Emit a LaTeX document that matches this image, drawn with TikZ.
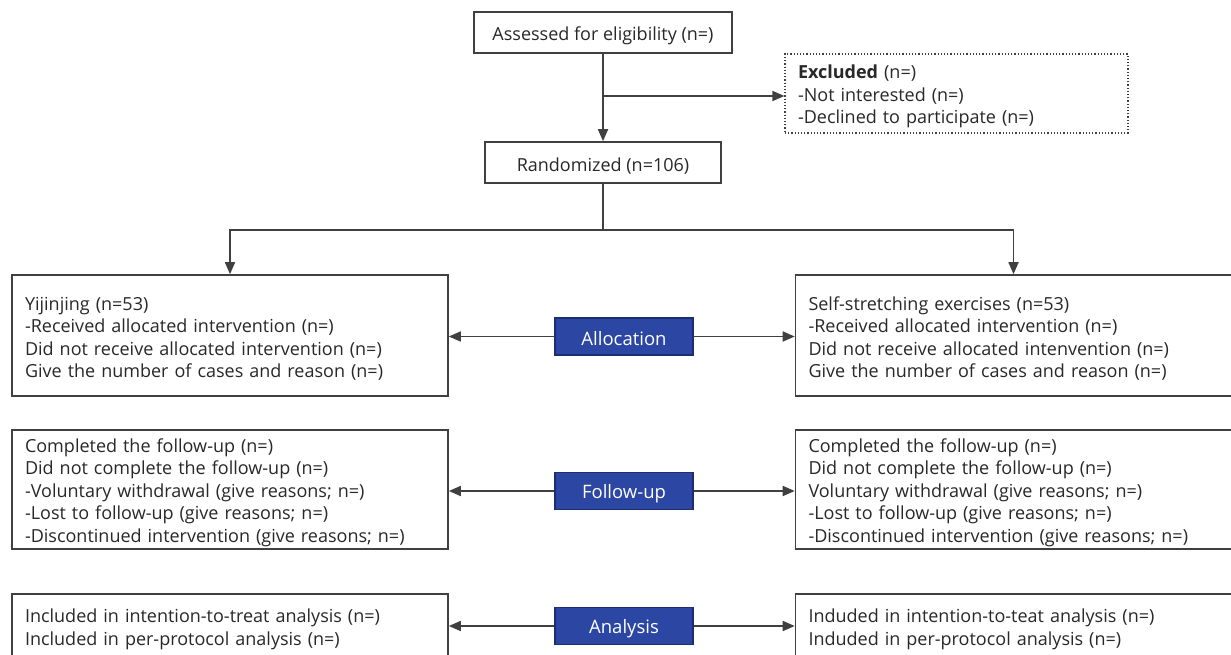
\documentclass[tikz,border=0pt]{standalone}
\usepackage{fontspec}
\setmainfont{Open Sans}
\usetikzlibrary{arrows.meta,calc}
\definecolor{boxline}{RGB}{64,64,64}
\definecolor{txt}{RGB}{40,40,40}
\definecolor{navy}{RGB}{44,71,163}
\definecolor{navyline}{RGB}{30,45,110}
\begin{document}
\begin{tikzpicture}[x=1pt,y=-1pt,
  base/.style={text=txt, inner sep=0pt, font=\fontsize{18}{22.4}\selectfont, execute at begin node={\rule{0pt}{20pt}}},
  box/.style={base, draw=boxline, line width=1.6pt, fill=white},
  sidebox/.style={box, text width=410pt, inner xsep=13pt, minimum height=#1, align=left},
  titlebox/.style={box, align=center},
  exbox/.style={base, draw=boxline, line width=1.2pt, dotted, text width=317pt, inner xsep=13pt, minimum height=79pt, align=left},
  stage/.style={fill=navy, draw=navyline, line width=1.2pt, text=white, inner sep=0pt, minimum width=138pt, minimum height=37pt, font=\fontsize{18.5}{20}\selectfont, execute at begin node={\rule{0pt}{19pt}}},
  conn/.style={draw=boxline, line width=1.7pt},
  arr/.style={conn, -{Triangle[length=12pt,width=10pt]}}
]
\useasboundingbox (0,0) rectangle (1231,655);
\fill[white] (0,0) rectangle (1231,655);

\node[titlebox, minimum width=258pt, minimum height=41pt] (assess) at (603,32.5) {Assessed for eligibility (n=)};
\node[exbox] (excl) at (956.5,93.5) {\textbf{Excluded} (n=)\\-Not interested (n=)\\-Declined to participate (n=)};
\node[titlebox, minimum width=236pt, minimum height=41pt] (rand) at (603,162.5) {Randomized (n=106)};

\node[sidebox=121pt] (la) at (230,335.5) {Yijinjing (n=53)\\-Received allocated intervention (n=)\\Did not receive allocated intervention (n=)\\Give the number of cases and reason (n=)};
\node[sidebox=121pt] (ra) at (1013.5,335.5) {Self-stretching exercises (n=53)\\-Received allocated intervention (n=)\\Did not receive allocated intenvention (n=)\\Give the number of cases and reason (n=)};

\node[sidebox=119pt] (lf) at (230,489.5) {Completed the follow-up (n=)\\Did not complete the follow-up (n=)\\-Voluntary withdrawal (give reasons; n=)\\-Lost to follow-up (give reasons; n=)\\-Discontinued intervention (give reasons; n=)};
\node[sidebox=119pt] (rf) at (1013.5,489.5) {Completed the follow-up (n=)\\Did not complete the follow-up (n=)\\Voluntary withdrawal (give reasons; n=)\\-Lost to follow-up (give reasons; n=)\\-Discontinued intervention (give reasons; n=)};

\node[sidebox=64pt] (ln) at (230,626) {Included in intention-to-treat analysis (n=)\\Included in per-protocol analysis (n=)};
\node[sidebox=64pt] (rn) at (1013.5,626) {Induded in intention-to-teat analysis (n=)\\Induded in per-protocol analysis (n=)};

\node[stage] (alloc) at (624,336.5) {Allocation};
\node[stage] (fol) at (624,491) {Follow-up};
\node[stage] (ana) at (624,626) {Analysis};

% connectors
\draw[arr] (assess.south) -- (rand.north);
\coordinate (br) at (603,96);
\draw[arr] (br) -- (br -| excl.west);
\coordinate (split) at (603,230);
\draw[conn] (rand.south) -- (split);
\draw[arr] (split) -| (la.north);
\draw[arr] (split) -| (ra.north);

\draw[arr] (alloc.west) -- (alloc.west -| la.east);
\draw[arr] (alloc.east) -- (alloc.east -| ra.west);
\draw[arr] (fol.west) -- (fol.west -| lf.east);
\draw[arr] (fol.east) -- (fol.east -| rf.west);
\draw[arr] (ana.west) -- (ana.west -| ln.east);
\draw[arr] (ana.east) -- (ana.east -| rn.west);
\end{tikzpicture}
\end{document}
